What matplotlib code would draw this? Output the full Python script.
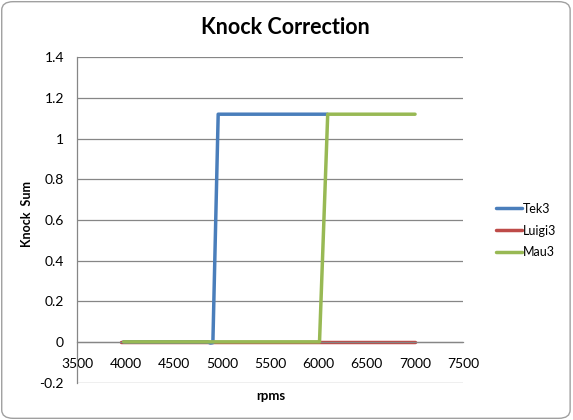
import matplotlib
matplotlib.use("Agg")
import matplotlib.pyplot as plt
from matplotlib.patches import FancyBboxPatch

# Data
tek3_rpm = [3980, 4850, 4880, 4905, 4960, 6090]
tek3_val = [0.0, 0.0, -0.006, -0.004, 1.12, 1.12]
luigi3_rpm = [3950, 7000]
luigi3_val = [0.0, 0.0]
mau3_rpm = [3980, 6010, 6095, 7000]
mau3_val = [0.0, 0.0, 1.12, 1.12]

xticks = [3500, 4000, 4500, 5000, 5500, 6000, 6500, 7000, 7500]
yticks = [-0.2, 0, 0.2, 0.4, 0.6, 0.8, 1.0, 1.2, 1.4]
ytick_labels = ["-0.2", "0", "0.2", "0.4", "0.6", "0.8", "1", "1.2", "1.4"]

FONT = ["Lato", "DejaVu Sans"]

fig = plt.figure(figsize=(5.73, 4.2), dpi=100)
fig.patch.set_facecolor("white")
border = FancyBboxPatch((0.003, 0.004), 0.992, 0.992,
                        boxstyle="round,pad=0,rounding_size=0.02",
                        transform=fig.transFigure, facecolor="white",
                        edgecolor="#a0a0a0", linewidth=1.0, zorder=-10)
fig.patches.append(border)

W, H = 573, 420
x0, x1 = 77.3, 463.3
y_top, y_bot = 57.3, 382.5
ax = fig.add_axes([x0 / W, 1 - y_bot / H, (x1 - x0) / W, (y_bot - y_top) / H])
ax.set_facecolor("none")

ax.plot(tek3_rpm, tek3_val, color="#4a7ebb", lw=2.5, label="Tek3",
        solid_capstyle="round", zorder=3)
ax.plot(luigi3_rpm, luigi3_val, color="#be4b48", lw=2.5, label="Luigi3",
        solid_capstyle="round", zorder=2)
ax.plot(mau3_rpm, mau3_val, color="#98b954", lw=2.5, label="Mau3",
        solid_capstyle="round", zorder=4)

ax.set_xlim(3500, 7500)
ax.set_ylim(-0.2, 1.4)
ax.set_yticks(yticks)
ax.set_yticklabels(ytick_labels)
ax.set_xticks(xticks)
ax.grid(axis="y", color="#868686", lw=0.9)
ax.set_axisbelow(True)

for s in ["top", "right"]:
    ax.spines[s].set_visible(False)
ax.spines["left"].set_color("#868686")
ax.spines["left"].set_linewidth(0.9)
ax.spines["bottom"].set_position(("data", 0))
ax.spines["bottom"].set_color("#868686")
ax.spines["bottom"].set_linewidth(0.9)
ax.tick_params(axis="both", length=0, labelsize=10, colors="black")
ax.tick_params(axis="y", pad=9.5)
ax.tick_params(axis="x", pad=11.5)
for lab in ax.get_xticklabels() + ax.get_yticklabels():
    lab.set_family(FONT)

fig.text(285.5 / W, 1 - 27 / H, "Knock Correction",
         ha="center", va="center", fontsize=15.5, fontweight="bold", family=FONT)
fig.text(27 / W, 1 - 214 / H, "Knock  Sum", rotation=90, ha="center",
         va="center", fontsize=9, fontweight="bold", family=FONT)
fig.text(271 / W, 1 - 396 / H, "rpms", ha="center", va="center",
         fontsize=9.5, fontweight="bold", family=FONT)

leg = fig.legend(loc="center left", bbox_to_anchor=(496 / W, 1 - 230.5 / H),
                 bbox_transform=fig.transFigure, frameon=False,
                 handlelength=2.1, handletextpad=0.05, borderpad=0,
                 borderaxespad=0, labelspacing=0.8,
                 prop={"family": FONT, "size": 9})

fig.savefig("out.png", dpi=100, facecolor="white")
